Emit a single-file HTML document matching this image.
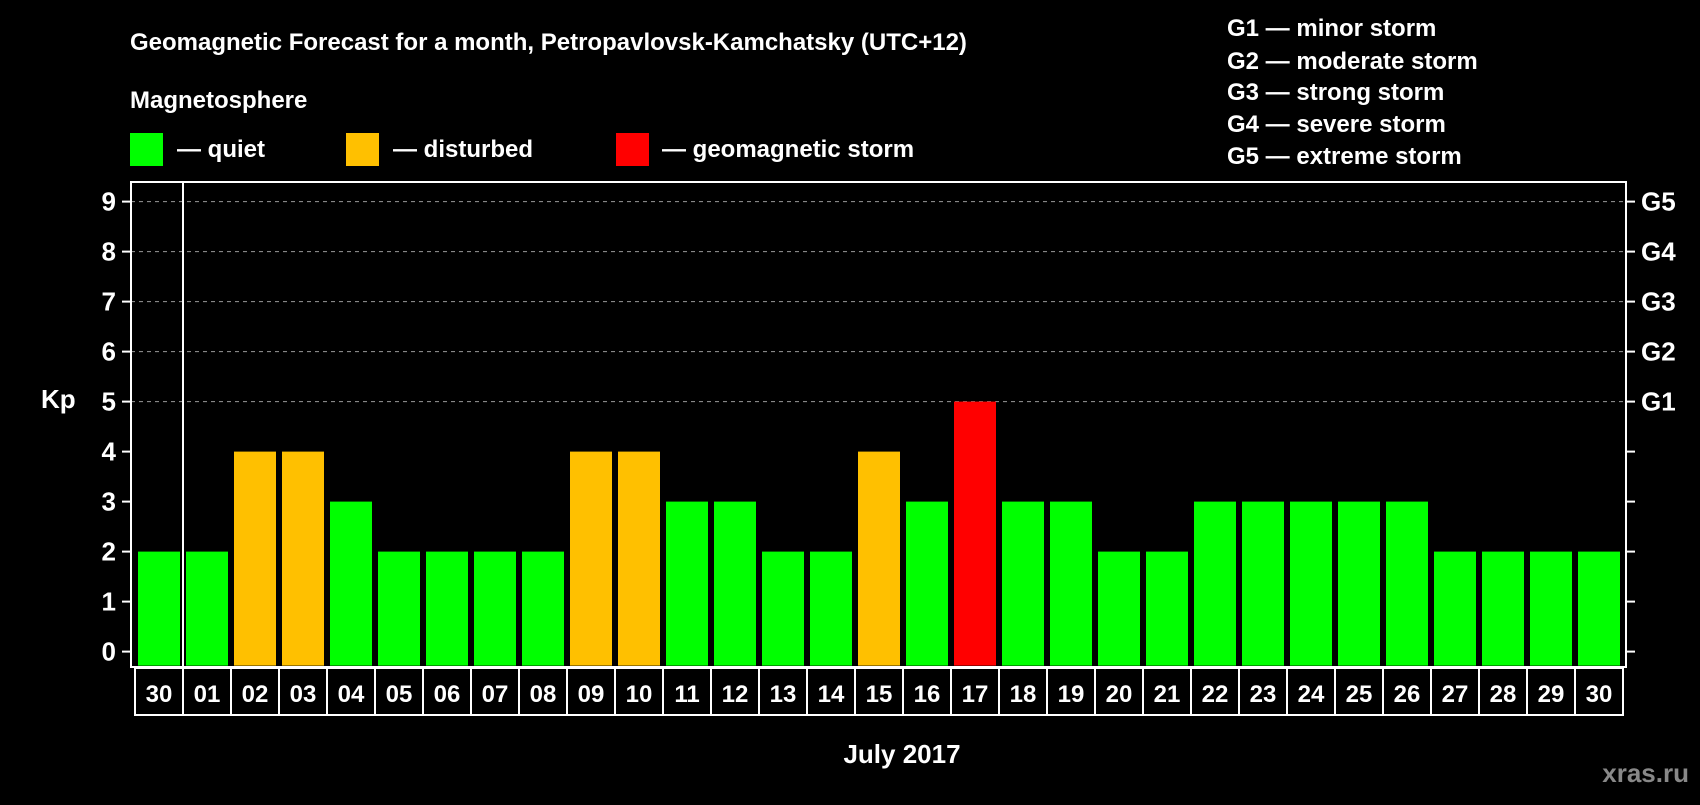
<!DOCTYPE html>
<html><head><meta charset="utf-8"><style>
body{margin:0;background:#000;width:1700px;height:800px;overflow:hidden}
svg text{font-family:"Liberation Sans",sans-serif;font-weight:bold;fill:#fff}
</style></head><body>
<svg id="c" width="1700" height="800">
<text x="130" y="50" font-size="24">Geomagnetic Forecast for a month, Petropavlovsk-Kamchatsky (UTC+12)</text>
<text x="130" y="108" font-size="24">Magnetosphere</text>
<rect x="130" y="133" width="33" height="33" fill="#00ff00"/>
<text x="177" y="157" font-size="24">— quiet</text>
<rect x="346" y="133" width="33" height="33" fill="#ffc000"/>
<text x="393" y="157" font-size="24">— disturbed</text>
<rect x="616" y="133" width="33" height="33" fill="#ff0000"/>
<text x="662" y="157" font-size="24">— geomagnetic storm</text>
<g font-size="24">
<text x="1227" y="36">G1 — minor storm</text>
<text x="1227" y="69">G2 — moderate storm</text>
<text x="1227" y="100">G3 — strong storm</text>
<text x="1227" y="132">G4 — severe storm</text>
<text x="1227" y="164">G5 — extreme storm</text>
</g>
<text x="41" y="408" font-size="26">Kp</text>
<text x="902" y="763" font-size="26" text-anchor="middle">July 2017</text>
<text x="1689" y="782" font-size="26" text-anchor="end" style="fill:#888">xras.ru</text>
<g id="plot"></g>
</svg>
<script>
const days=["30","01","02","03","04","05","06","07","08","09","10","11","12","13","14","15","16","17","18","19","20","21","22","23","24","25","26","27","28","29","30"];
const kp=[2,2,4,4,3,2,2,2,2,4,4,3,3,2,2,4,3,5,3,3,2,2,3,3,3,3,3,2,2,2,2];
const yTicks=[0,1,2,3,4,5,6,7,8,9];
const gLabels=["G1","G2","G3","G4","G5"];
const gLevels=[5,6,7,8,9];
const NS="http://www.w3.org/2000/svg";
const g=document.getElementById('plot');
const L=131,R=1626,T=182,B=667;
const y=v=>651.6-v*50;
const x0=159,step=48;
const x=i=>x0+i*step;
function mk(t,a,p){const e=document.createElementNS(NS,t);for(const k in a)e.setAttribute(k,a[k]);(p||g).appendChild(e);return e;}
gLevels.forEach(v=>{
 const l=mk('line',{x1:L,x2:R,y1:y(v),y2:y(v),stroke:'#999','stroke-dasharray':'4 4','stroke-width':1});
 
 
});
kp.forEach((v,i)=>{
 const c=v>=5?'#ff0000':(v>=4?'#ffc000':'#00ff00');
 const r=mk('rect',{x:x(i)-21,y:y(v),width:42,height:y(0)-y(v)+14,fill:c});
 
 
});
mk('rect',{x:L,y:T,width:R-L,height:B-T,fill:'none',stroke:'#fff','stroke-width':2});
mk('line',{x1:183,x2:183,y1:T,y2:B,stroke:'#fff','stroke-width':2});
yTicks.forEach(v=>{
 mk('line',{x1:L-9,x2:L,y1:y(v),y2:y(v),stroke:'#fff','stroke-width':2});
 mk('line',{x1:R,x2:R+9,y1:y(v),y2:y(v),stroke:'#fff','stroke-width':2});
 const t=mk('text',{x:116,y:y(v)+9,'font-size':26,'text-anchor':'end'});
 t.textContent=v;
 
 
});
gLevels.forEach((v,i)=>{
 const t=mk('text',{x:1641,y:y(v)+9,'font-size':26});
 t.textContent=gLabels[i];
 
 
});
days.forEach((d,i)=>{
 const bx=mk('rect',{x:x(i)-24,y:B+1,width:48,height:47,fill:'none',stroke:'#fff','stroke-width':2});
 
 
 const t=mk('text',{x:x(i),y:702,'font-size':24,'text-anchor':'middle'});
 t.textContent=d;
 
 
});
</script>
</body></html>
